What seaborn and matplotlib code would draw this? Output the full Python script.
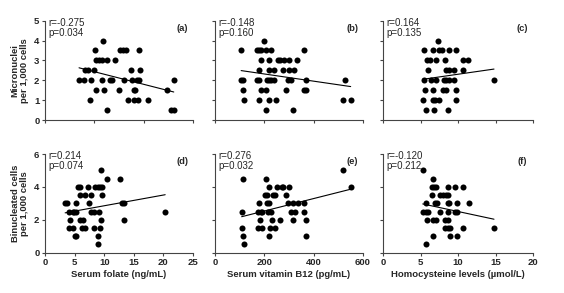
import numpy as np
import pandas as pd
import matplotlib
matplotlib.use("Agg")
import matplotlib.pyplot as plt
import seaborn as sns

sns.set_theme(style="ticks")
plt.rcParams['font.family'] = ['Liberation Sans', 'DejaVu Sans']

# ---- data ----
a_x = [6.9, 7.9, 9.4, 8.2, 8.7, 9.2, 10.0, 10.2, 10.4, 10.9, 11.6, 12.6, 11.8, 10.4, 11.6, 11.9, 12.6,
       13.1, 13.5, 14.1, 14.9, 15.3, 15.9, 16.5, 16.1, 16.8, 17.5, 17.6, 18.0, 18.3, 18.1, 18.8, 18.6,
       19.0, 19.0, 19.3, 20.8, 24.8, 25.5, 26.1, 26.1]
a_y = [2, 2, 2, 2.5, 2.5, 1, 2.5, 3.5, 3, 3, 3, 3, 4, 1.5, 2, 1.5, 0.5,
       2, 2, 3, 1.5, 3.5, 3.5, 3.5, 2, 1, 2.5, 2, 1.5, 1.5, 1, 1, 2,
       2, 3.5, 2.5, 1, 1.5, 0.5, 0.5, 2]

b_x = [106, 106, 114, 112, 116, 170, 180, 186, 207, 227, 200, 186, 180, 169, 177, 188, 207, 180, 207,
       210, 218, 227, 241, 220, 257, 220, 241, 218, 248, 265, 278, 299, 333, 275, 298, 322, 286, 295,
       309, 316, 359, 360, 370, 367, 527, 520, 550]
b_y = [3.5, 2, 2, 1.5, 1, 3.5, 3.5, 3.5, 3.5, 3.5, 4, 3, 2.5, 2, 2, 1.5, 1.5, 1, 0.5,
       2, 2, 2, 2, 3, 3, 2.5, 2.5, 1, 1, 3, 3, 3, 3, 2.5, 2.5, 2.5, 1.5, 2,
       2, 0.5, 3.5, 1.5, 1.5, 2, 2, 1, 1]

c_x = [7.34, 5.5, 6.6, 7.4, 7.8, 8.8, 9.7, 5.9, 6.2, 7.0, 8.3, 10.6, 11.3, 5.95, 8.4, 8.8, 9.5, 10.6,
       5.5, 6.4, 7.1, 8.1, 8.4, 8.8, 9.5, 14.8, 5.6, 6.6, 8.0, 8.4, 9.7, 5.3, 6.6, 6.9, 7.5, 9.7,
       5.7, 6.8, 8.7]
c_y = [4, 3.5, 3.5, 3.5, 3.5, 3.5, 3.5, 3, 3, 3, 3, 3, 3, 2.5, 2.5, 2.5, 2.5, 2.5,
       2, 2, 2, 2, 2, 2, 2, 2, 1.5, 1.5, 1.5, 1.5, 1.5, 1, 1, 1, 1, 1,
       0.5, 0.5, 0.5]

d_x = [3.4, 3.7, 4.1, 4.7, 4.9, 5.3, 4.3, 4.1, 4.7, 5.1, 5.3, 5.2, 5.5, 5.9, 5.9, 5.9, 6.4, 6.2, 6.8,
       6.8, 7.2, 7.5, 7.8, 7.7, 8.2, 8.2, 8.4, 8.9, 9.3, 9.7, 9.5, 9.6, 9.2, 9.5, 9.3, 9.0, 8.9,
       10.5, 12.6, 13.0, 13.3, 13.3, 20.3]
d_y = [3, 3, 2.5, 2.5, 2.5, 2.5, 2, 1.5, 1.5, 1, 1, 3, 4, 4, 3.5, 2, 2, 1.5, 1.5,
       3.5, 4, 3, 3.5, 2.5, 2.5, 1.5, 4, 4, 4, 4, 5, 3.5, 2.5, 2, 1.5, 1, 0.5,
       4.5, 4.5, 3, 3, 2, 2.5]

e_x = [115, 111, 108, 115, 118, 207, 203, 209, 212, 220, 180, 176, 185, 192, 182, 176, 189, 220, 216,
       226, 230, 223, 243, 220, 234, 243, 250, 270, 277, 264, 288, 300, 297, 318, 335, 308, 324,
       318, 361, 361, 369, 369, 520, 550]
e_y = [4.5, 2.5, 1.5, 1, 0.5, 4.5, 3.5, 3.5, 3, 3, 3, 2.5, 2.5, 2.5, 2, 1.5, 1.5, 4, 2.5,
       2.5, 2, 1.5, 1.5, 1, 3.5, 3.5, 4, 4, 4, 2, 3.5, 4, 3, 3, 3, 2.5, 2.5,
       2, 3, 2.5, 2, 1, 5, 4]

f_x = [5.3, 5.7, 5.3, 5.7, 6.0, 5.8, 5.7, 6.7, 6.5, 6.8, 7.0, 6.5, 6.9, 7.2, 6.7, 7.0, 6.7, 7.6, 8.0,
       8.4, 8.6, 7.6, 8.2, 8.6, 8.2, 8.6, 8.9, 8.7, 8.8, 8.7, 8.9, 8.7, 9.6, 9.8, 9.6, 9.8, 9.8,
       10.7, 10.7, 11.4, 14.8]
f_y = [5, 3, 2.5, 2.5, 2.5, 2, 0.5, 4.5, 4, 4, 4, 3.5, 3, 3, 2, 2, 1, 3.5, 3.5,
       3.5, 3.5, 2.5, 2, 2, 1.5, 1.5, 1.5, 3, 3, 2.5, 1, 4, 4, 3, 2.5, 2.5, 1,
       4, 1.5, 3, 1.5]

stats = ["r=-0.275\np=0.034", "r=-0.148\np=0.160", "r=0.164\np=0.135",
         "r=0.214\np=0.074", "r=0.276\np=0.032", "r=-0.120\np=0.212"]
panel_labels = ["(a)", "(b)", "(c)", "(d)", "(e)", "(f)"]
x_labels = ["Serum folate (ng/mL)", "Serum vitamin B12 (pg/mL)", "Homocysteine levels (\u00b5mol/L)"]
y_labels = ["Micronuclei\nper 1,000 cells", "Binucleated cells\nper 1,000 cells"]

xs = [a_x, b_x, c_x, d_x, e_x, f_x]
ys = [a_y, b_y, c_y, d_y, e_y, f_y]

# ---- layout ----
W, H = 564, 293
fig = plt.figure(figsize=(W / 100, H / 100), dpi=100)

lefts = [45, 215, 383]
widths = [148, 148, 150]
tops = [20.7, 154]
bottoms = [120, 252.7]

xlims_top = [(0, 30), (0, 600), (0, 20)]
xticks_top = [[0, 10, 20, 30], [0, 200, 400, 600], [0, 5, 10, 15, 20]]
xlims_bot = [(0, 25), (0, 600), (0, 20)]
xticks_bot = [[0, 5, 10, 15, 20, 25], [0, 200, 400, 600], [0, 5, 10, 15, 20]]

axcol = "#444444"
for r in range(2):
    for c in range(3):
        i = r * 3 + c
        ax = fig.add_axes([lefts[c] / W, 1 - bottoms[r] / H, widths[c] / W, (bottoms[r] - tops[r]) / H])
        df = pd.DataFrame({"x": xs[i], "y": ys[i]})
        sns.regplot(data=df, x="x", y="y", ax=ax, ci=None, truncate=True,
                    scatter_kws=dict(s=19, color="black", linewidths=0, alpha=1),
                    line_kws=dict(color="black", lw=0.8))
        if r == 0:
            ax.set_xlim(*xlims_top[c]); ax.set_xticks(xticks_top[c]); ax.set_xticklabels([])
            ax.set_ylim(0, 5); ax.set_yticks([0, 1, 2, 3, 4, 5])
        else:
            ax.set_xlim(*xlims_bot[c]); ax.set_xticks(xticks_bot[c])
            ax.set_ylim(0, 6); ax.set_yticks([0, 2, 4, 6])
            ax.set_xlabel(x_labels[c], fontsize=6.8, fontweight="bold", labelpad=2)
        if c == 0:
            ax.set_ylabel(y_labels[r], fontsize=6.8, fontweight="bold", labelpad=4, linespacing=1.0)
        else:
            ax.set_yticklabels([]); ax.set_ylabel("")
        if r == 0:
            ax.set_xlabel("")
        sns.despine(ax=ax)
        for s in ["left", "bottom"]:
            ax.spines[s].set_color(axcol)
            ax.spines[s].set_linewidth(0.8)
        ax.tick_params(length=2.5, width=0.8, color=axcol, labelsize=6.8, pad=1.5)
        for lab in ax.get_xticklabels() + ax.get_yticklabels():
            lab.set_fontweight("bold")
        ax.text(0.02, 1.03, stats[i], transform=ax.transAxes, ha="left", va="top",
                fontsize=7, linespacing=1.05)
        ax.text(0.93, 0.97, panel_labels[i], transform=ax.transAxes, ha="center", va="top",
                fontsize=6.8, fontweight="bold")

fig.savefig("out.png", dpi=100)
